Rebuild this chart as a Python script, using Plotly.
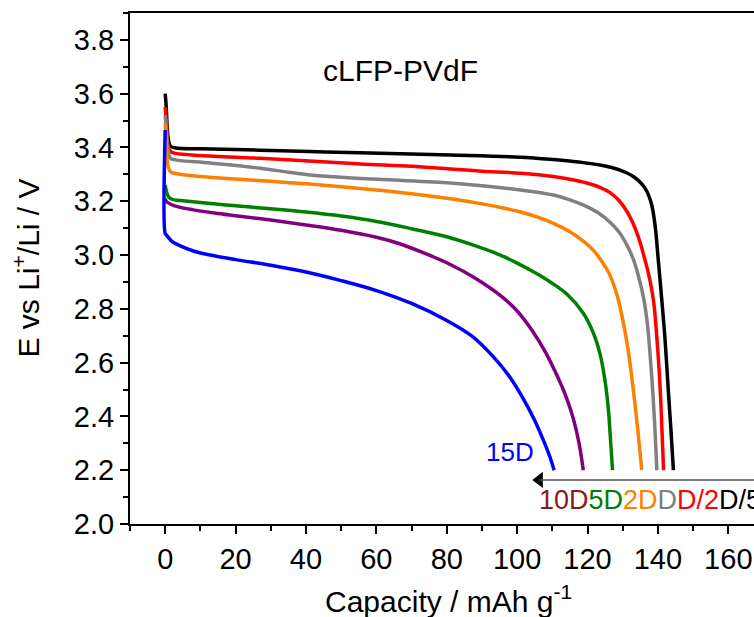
import plotly.graph_objects as go

# Discharge curves of cLFP-PVdF at different rates (capacity in mAh/g, potential in V)
cap_D5 = [0, 0.3, 0.8, 1.5, 3, 10, 27, 41, 55.4, 81, 100.9, 110.3, 116, 121, 125, 128.3,
          131.2, 133.2, 134.9, 136.0, 136.8, 137.6, 138.3, 139.2, 140.1, 141.1, 142.0,
          143.0, 143.7, 144.4]
E_D5 = [3.60, 3.55, 3.44, 3.405, 3.398, 3.395, 3.39, 3.385, 3.38, 3.372, 3.364, 3.355,
        3.348, 3.34, 3.331, 3.32, 3.305, 3.29, 3.272, 3.255, 3.238, 3.214, 3.183, 3.11,
        2.982, 2.833, 2.69, 2.487, 2.35, 2.2]

cap_D2 = [0, 0.3, 0.8, 1.5, 3, 10, 27, 41, 55.4, 70, 81, 90, 100.9, 110.3, 115, 119.8,
          123.5, 126.4, 129, 131.2, 132.8, 134.1, 135.1, 136.0, 137.0, 137.9, 138.8,
          139.6, 140.4, 141.0, 141.6]
E_D2 = [3.55, 3.50, 3.41, 3.385, 3.378, 3.37, 3.36, 3.35, 3.339, 3.33, 3.32, 3.312,
        3.304, 3.292, 3.282, 3.268, 3.252, 3.232, 3.202, 3.162, 3.122, 3.08, 3.04, 2.997,
        2.948, 2.895, 2.825, 2.71, 2.56, 2.40, 2.2]

cap_D = [0, 0.3, 0.8, 1.5, 3, 12.8, 27, 35, 41, 48, 55.4, 65, 81, 90, 100.9, 110.3, 115,
         119.8, 123, 126.4, 129, 131.2, 133.0, 134.5, 136.0, 137.0, 137.8, 138.6, 139.2,
         139.7]
E_D = [3.52, 3.47, 3.39, 3.36, 3.354, 3.342, 3.323, 3.308, 3.298, 3.291, 3.285, 3.279,
       3.268, 3.258, 3.242, 3.223, 3.205, 3.18, 3.157, 3.122, 3.085, 3.037, 2.985, 2.92,
       2.835, 2.745, 2.625, 2.48, 2.34, 2.2]

cap_2D = [0, 0.3, 0.8, 1.5, 3, 10, 20, 30, 40, 50, 60, 70, 80, 88, 95, 101, 106, 110.3,
          114.5, 118.8, 121.5, 123.6, 126.0, 128.3, 130.0, 131.5, 133.0, 134.2, 135.4]
E_2D = [3.49, 3.42, 3.33, 3.31, 3.303, 3.292, 3.283, 3.274, 3.265, 3.254, 3.242, 3.228,
        3.211, 3.195, 3.178, 3.16, 3.14, 3.118, 3.09, 3.052, 3.02, 2.985, 2.935, 2.855,
        2.76, 2.65, 2.50, 2.36, 2.2]

cap_5D = [0, 0.3, 1, 2, 4.3, 10, 20, 30, 40, 50, 60, 70, 80, 88, 95.2, 100, 105, 109.4,
          114.1, 118.8, 121.7, 123.6, 125.0, 125.9, 126.6, 127.1]
E_5D = [3.26, 3.24, 3.215, 3.207, 3.203, 3.195, 3.183, 3.172, 3.16, 3.145, 3.125, 3.098,
        3.068, 3.035, 3.0, 2.97, 2.935, 2.9, 2.855, 2.784, 2.709, 2.63, 2.53, 2.43, 2.3,
        2.2]

cap_10D = [0, 0.3, 1.4, 4, 8, 14, 20, 30, 40, 50, 60, 66.6, 74, 81, 88, 95.2, 100,
           104.5, 108, 111.4, 114, 116, 117.6, 118.8]
E_10D = [3.21, 3.20, 3.19, 3.178, 3.168, 3.156, 3.146, 3.13, 3.112, 3.092, 3.066, 3.042,
         3.005, 2.965, 2.915, 2.85, 2.792, 2.715, 2.64, 2.55, 2.47, 2.39, 2.30, 2.2]

cap_15D = [0, 0, 0.3, 2, 4.3, 8, 12.8, 20, 30, 40, 50, 60, 70, 80, 87, 93, 98, 102, 105,
           107.5, 109.3, 110.5]
E_15D = [3.465, 3.08, 3.075, 3.05, 3.034, 3.015, 3.0, 2.983, 2.962, 2.937, 2.905, 2.868,
         2.82, 2.757, 2.70, 2.625, 2.545, 2.46, 2.385, 2.31, 2.25, 2.2]

series = [
    ("D/5", cap_D5, E_D5, "#000000"),
    ("D/2", cap_D2, E_D2, "#ff0000"),
    ("D", cap_D, E_D, "#808080"),
    ("2D", cap_2D, E_2D, "#ff8000"),
    ("5D", cap_5D, E_5D, "#008000"),
    ("10D", cap_10D, E_10D, "#800080"),
    ("15D", cap_15D, E_15D, "#0000ff"),
]

# Rate labels under the arrow, left to right
rate_labels = ["10D", "5D", "2D", "D", "D/2", "D/5"]
rate_label_colors = ["#8b1a1a", "#008000", "#ff8000", "#808080", "#ff0000", "#000000"]

x_ticks = [0, 20, 40, 60, 80, 100, 120, 140, 160]
y_ticks = [2.0, 2.2, 2.4, 2.6, 2.8, 3.0, 3.2, 3.4, 3.6, 3.8]

ARROW_Y = 2.164
ARROW_TIP = 104.3

FONT = "Liberation Sans, Arial, sans-serif"

fig = go.Figure()
for name, cx, ey, col in series:
    fig.add_trace(go.Scatter(
        x=cx, y=ey, mode="lines", name=name,
        line=dict(color=col, width=3.5, shape="spline", smoothing=1.0),
        showlegend=False, hoverinfo="skip",
    ))

# arrow indicating increasing rate
fig.add_shape(type="line", xref="x", yref="y", x0=ARROW_TIP + 2, x1=175,
              y0=ARROW_Y, y1=ARROW_Y, line=dict(color="#555555", width=1.5))
fig.add_trace(go.Scatter(
    x=[ARROW_TIP + 2.0], y=[ARROW_Y], mode="markers",
    marker=dict(symbol="triangle-left", size=14, color="black"),
    showlegend=False, hoverinfo="skip", cliponaxis=False,
))

label_html = "".join(
    f"<span style='color:{c}'>{t}</span>" for t, c in zip(rate_labels, rate_label_colors)
)
annotations = [
    dict(x=105.5, y=2.089, xref="x", yref="y", text=label_html, showarrow=False,
         xanchor="left", yanchor="middle", font=dict(family=FONT, size=27)),
    dict(x=98, y=2.268, xref="x", yref="y", text="15D", showarrow=False,
         xanchor="center", yanchor="middle", font=dict(family=FONT, size=26, color="#0000ff")),
    dict(x=66.8, y=3.688, xref="x", yref="y", text="cLFP-PVdF", showarrow=False,
         xanchor="center", yanchor="middle", font=dict(family=FONT, size=30, color="black")),
    dict(x=0.511, y=0, xref="paper", yref="paper", yshift=-75,
         text="Capacity / mAh g<sup>-1</sup>", showarrow=False,
         xanchor="center", yanchor="middle", font=dict(family=FONT, size=30, color="black")),
    dict(x=0, y=0.5, xref="paper", yref="paper", xshift=-104, textangle=-90,
         text="E vs Li<sup>+</sup>/Li / V", showarrow=False,
         xanchor="center", yanchor="middle", font=dict(family=FONT, size=30, color="black")),
]

fig.update_layout(
    width=754, height=617,
    margin=dict(l=130, r=0, t=13, b=93),
    paper_bgcolor="white", plot_bgcolor="white",
    annotations=annotations,
    font=dict(family=FONT, color="black"),
)
fig.update_xaxes(
    range=[-10, 167.3], tickvals=x_ticks, ticks="outside", ticklen=8, tickwidth=2,
    tickcolor="black", showline=True, linewidth=2, linecolor="black", mirror=True,
    showgrid=False, zeroline=False, tickfont=dict(size=29, family=FONT),
    minor=dict(dtick=10, tick0=0, ticks="outside", ticklen=5, tickwidth=2, tickcolor="black"),
)
fig.update_yaxes(
    range=[2.0, 3.9], tickvals=y_ticks, ticktext=[f"{v:.1f}" for v in y_ticks],
    ticks="outside", ticklen=8, tickwidth=2, tickcolor="black",
    showline=True, linewidth=2, linecolor="black", mirror=False,
    showgrid=False, zeroline=False, tickfont=dict(size=29, family=FONT),
    minor=dict(dtick=0.1, tick0=2.0, ticks="outside", ticklen=5, tickwidth=2, tickcolor="black"),
)

fig.write_html("out.html")
